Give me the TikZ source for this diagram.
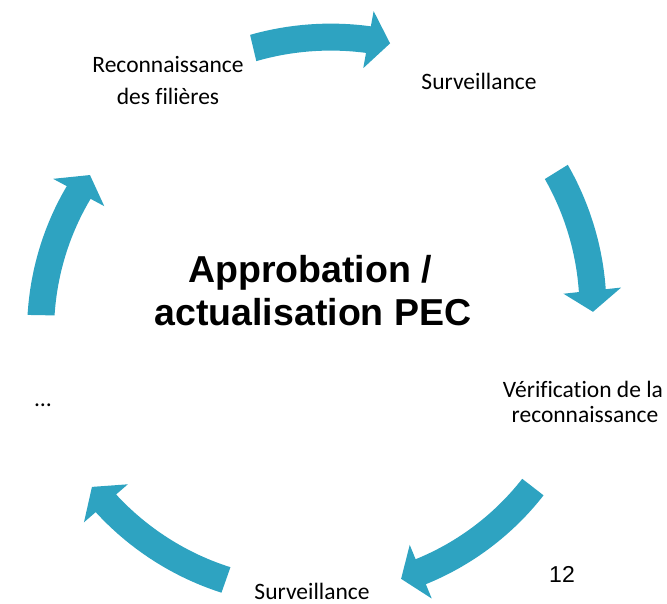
\documentclass[tikz,border=0pt]{standalone}
\usepackage{fontspec}
\setmainfont{Carlito}[Ligatures=CommonOff]
\newfontfamily\arialfont{Liberation Sans}
\definecolor{arrowcol}{RGB}{46,163,193}
\tikzset{
  lbl/.style={font=\fontsize{23.5}{28}\selectfont, inner sep=0pt, anchor=base, text=black},
  title/.style={font=\arialfont\bfseries\fontsize{37.5}{42}\selectfont, inner sep=0pt, anchor=base, text=black},
  pagenum/.style={font=\arialfont\fontsize{23}{27}\selectfont, inner sep=0pt, anchor=base, text=black},
}
\def\ctrx{317.5}
\def\ctry{320}
\def\shw{13.5}
\def\hdw{29}
% #1 tail angle, #2 tip angle, #3 tail radius, #4 tip radius
\newcommand\cyclearrow[4]{%
  \pgfmathsetmacro\aH{#2+4.4}%
  \pgfmathsetmacro\rH{#3+((#4)-(#3))*(\aH-(#1))/((#2)-(#1))}%
  \fill[arrowcol]
    plot[domain=#1:\aH, samples=40]
      ({\ctrx+(#3+((#4)-(#3))*(\x-(#1))/((#2)-(#1))+\shw)*cos(\x)},
       {\ctry-(#3+((#4)-(#3))*(\x-(#1))/((#2)-(#1))+\shw)*sin(\x)})
    -- ({\ctrx+(\rH+\hdw)*cos(\aH)}, {\ctry-(\rH+\hdw)*sin(\aH)})
    -- ({\ctrx+(#4)*cos(#2)}, {\ctry-(#4)*sin(#2)})
    -- ({\ctrx+(\rH-\hdw)*cos(\aH)}, {\ctry-(\rH-\hdw)*sin(\aH)})
    -- plot[domain=\aH:#1, samples=40]
      ({\ctrx+(#3+((#4)-(#3))*(\x-(#1))/((#2)-(#1))-\shw)*cos(\x)},
       {\ctry-(#3+((#4)-(#3))*(\x-(#1))/((#2)-(#1))-\shw)*sin(\x)})
    -- cycle;%
}
\begin{document}
\begin{tikzpicture}[x=1pt, y=-1pt]
  \useasboundingbox (0,0) rectangle (667,604);
  % cycle arrows
  \cyclearrow{103.3}{75.3}{279.5}{286}
  \cyclearrow{31.8}{1.7}{281}{275.6}
  \cyclearrow{-37.8}{-72.1}{272.6}{272}
  \cyclearrow{-109.4}{-143.5}{275.6}{280.6}
  \cyclearrow{179}{147.5}{276.5}{269.8}
  % labels
  \node[lbl] (recon1) at (168,73) {Reconnaissance};
  \node[lbl] (recon2) at (168,105) {des filières};
  \node[lbl] (surv1) at (479,90) {Surveillance};
  \node[lbl] (verif1) at (583,397) {Vérification de la};
  \node[lbl] (verif2) at (585,422) {reconnaissance};
  \node[lbl] (surv2) at (312,599) {Surveillance};
  \node[lbl] (dots) at (43,406) {…};
  \node[title] (title1) at (310,283) {Approbation /};
  \node[title] (title2) at (313,325) {actualisation PEC};
  \node[pagenum] (num) at (562,582) {12};
\end{tikzpicture}
\end{document}
